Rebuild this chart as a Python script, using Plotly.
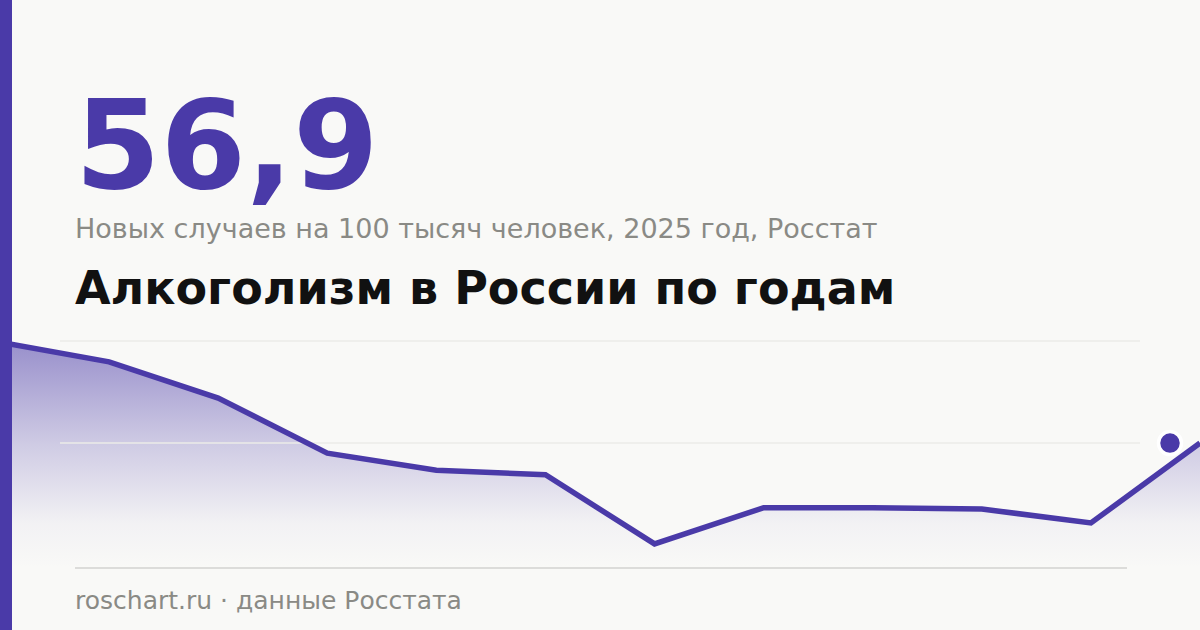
import plotly.graph_objects as go

# ---- data ----
years = [2014, 2015, 2016, 2017, 2018, 2019, 2020, 2021, 2022, 2023, 2024, 2025]
values = [72.8, 69.7, 64.0, 55.3, 52.6, 51.9, 41.0, 46.7, 46.7, 46.5, 44.3, 56.9]
grid_values = [73.0, 56.9]
headline = "56,9"
subtitle = "Новых случаев на 100 тысяч человек, 2025 год, Росстат"
title = "Алкоголизм в России по годам"
footer = "roschart.ru · данные Росстата"

# ---- style ----
W, H = 1200, 630
PURPLE = "#4a3aa8"
BG = "#f9f9f7"
FONT = "DejaVu Sans"
M_T, M_B = 320, 62
Y_RANGE = [37.2, 76.3]

def py(px):
    """pixel y (from top) -> paper y"""
    return (H - M_B - px) / (H - M_T - M_B)

def px_x(px):
    return px / W

n = len(years)
xi = list(range(n))

fig = go.Figure()

# gradient fill
fig.add_trace(go.Scatter(
    x=xi, y=values, mode="lines", line=dict(width=0, color=PURPLE),
    fill="tozeroy",
    fillgradient=dict(
        type="vertical",
        start=Y_RANGE[0], stop=72.6,
        colorscale=[[0, "rgba(74,58,168,0)"], [0.2, "rgba(74,58,168,0.04)"],
                    [0.55, "rgba(74,58,168,0.24)"], [1, "rgba(74,58,168,0.55)"]],
    ),
    hoverinfo="skip", showlegend=False,
))

# gridlines (above fill, below line)
for gv in grid_values:
    fig.add_trace(go.Scatter(
        x=[px_x(60) * (n - 1), px_x(1140) * (n - 1)], y=[gv, gv], mode="lines",
        line=dict(color="#ebebe9", width=1.5), hoverinfo="skip", showlegend=False,
    ))

# main line
fig.add_trace(go.Scatter(
    x=xi, y=values, mode="lines", line=dict(color=PURPLE, width=5.5),
    hoverinfo="skip", showlegend=False,
))

shapes = [
    # left accent bar
    dict(type="rect", xref="paper", yref="paper", x0=0, x1=px_x(12), y0=py(H), y1=py(0),
         fillcolor=PURPLE, line=dict(width=0), layer="above"),
    # baseline
    dict(type="line", xref="paper", yref="paper", x0=px_x(75), x1=px_x(1127), y0=py(568), y1=py(568),
         line=dict(color="#dcdcda", width=2), layer="above"),
    # last value dot
    dict(type="circle", xref="paper", yref="y", xsizemode="pixel", ysizemode="pixel",
         xanchor=px_x(1170), yanchor=values[-1], x0=-11.5, x1=11.5, y0=-11.5, y1=11.5,
         fillcolor=PURPLE, line=dict(color="white", width=3.5), layer="above"),
]

annotations = [
    dict(text=f"<b>{headline}</b>", x=px_x(73), y=py(72), xref="paper", yref="paper",
         xanchor="left", yanchor="top", showarrow=False,
         font=dict(family=FONT, size=123, color=PURPLE)),
    dict(text=subtitle, x=px_x(73), y=py(211), xref="paper", yref="paper",
         xanchor="left", yanchor="top", showarrow=False,
         font=dict(family=FONT, size=27, color="#8a8a85")),
    dict(text=f"<b>{title}</b>", x=px_x(73), y=py(259), xref="paper", yref="paper",
         xanchor="left", yanchor="top", showarrow=False,
         font=dict(family=FONT, size=46, color="#111111")),
    dict(text=footer, x=px_x(73), y=py(584), xref="paper", yref="paper",
         xanchor="left", yanchor="top", showarrow=False,
         font=dict(family=FONT, size=25, color="#8a8a85")),
]

fig.update_layout(
    width=W, height=H,
    margin=dict(l=0, r=0, t=M_T, b=M_B, pad=0),
    paper_bgcolor=BG, plot_bgcolor=BG,
    xaxis=dict(visible=False, range=[0, n - 1], fixedrange=True),
    yaxis=dict(visible=False, range=Y_RANGE, fixedrange=True),
    shapes=shapes, annotations=annotations,
    showlegend=False,
)

fig.write_html(
    "out.html",
    config=dict(displayModeBar=False),
    post_script="document.body.style.margin='0';document.body.style.background='#f9f9f7';",
)
